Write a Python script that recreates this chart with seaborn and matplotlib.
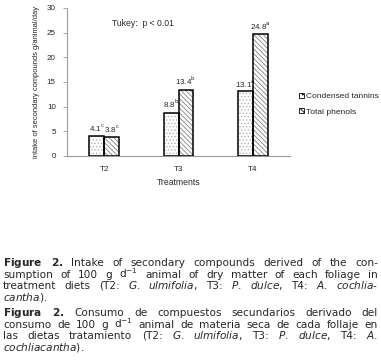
import matplotlib
matplotlib.use("Agg")
import matplotlib.pyplot as plt
from matplotlib.patches import Patch, Rectangle
import seaborn as sns
import pandas as pd

# data
treatments = ["T2", "T3", "T4"]
compounds = ["Condensed tannins", "Total phenols"]
tannins = [4.1, 8.8, 13.1]
phenols = [3.8, 13.4, 24.8]
tannin_letters = ["c", "b", "a"]
phenol_letters = ["c", "b", "a"]
y_ticks = [0, 5, 10, 15, 20, 25, 30]

caption_en = [
    r"$\mathbf{Figure}$ $\mathbf{2.}$ Intake of secondary compounds derived of the con-",
    r"sumption of 100 g d$^{-1}$ animal of dry matter of each foliage in",
    r"treatment diets (T2: $\mathit{G.}$ $\mathit{ulmifolia}$, T3: $\mathit{P.}$ $\mathit{dulce}$, T4: $\mathit{A.}$ $\mathit{cochlia}$-",
    r"$\mathit{cantha}$).",
]
caption_es = [
    r"$\mathbf{Figura}$ $\mathbf{2.}$ Consumo de compuestos secundarios derivado del",
    r"consumo de 100 g d$^{-1}$ animal de materia seca de cada follaje en",
    r"las dietas tratamiento (T2: $\mathit{G.}$ $\mathit{ulmifolia}$, T3: $\mathit{P.}$ $\mathit{dulce}$, T4: $\mathit{A.}$",
    r"$\mathit{cochliacantha}$).",
]

styles = {
    "Condensed tannins": dict(hatch=".....", color="#b4b4b4"),
    "Total phenols": dict(hatch="\\" * 7, color="#808080"),
}

df = pd.DataFrame({
    "treatment": treatments * 2,
    "compound": [compounds[0]] * 3 + [compounds[1]] * 3,
    "intake": tannins + phenols,
})

sns.set_style("white")
plt.rcParams["font.family"] = ["Liberation Sans", "DejaVu Sans"]
plt.rcParams["mathtext.fontset"] = "dejavusans"
plt.rcParams["hatch.linewidth"] = 0.6

W, H = 381, 362
fig = plt.figure(figsize=(W / 100, H / 100), dpi=100)
ax = fig.add_axes([67 / W, 1 - 156 / H, 223 / W, 148 / H])

sns.barplot(data=df, x="treatment", y="intake", hue="compound",
            order=treatments, hue_order=compounds, palette=["white", "white"],
            width=0.4, linewidth=0, legend=False, ax=ax)

letters = [tannin_letters, phenol_letters]
values = [tannins, phenols]
for i, cont in enumerate(ax.containers):
    st = styles[compounds[i]]
    for bar in cont:
        bar.set_hatch(st["hatch"])
        bar.set_edgecolor(st["color"])
        ax.add_patch(Rectangle((bar.get_x(), bar.get_y()), bar.get_width(),
                               bar.get_height(), fill=False, ec="black", lw=1.1, zorder=3))
    labels = [f"{v}$^{{\\mathrm{{{l}}}}}$" for v, l in zip(values[i], letters[i])]
    ax.bar_label(cont, labels=labels, padding=2, fontsize=5.8)

ax.set_ylim(0, 30)
ax.set_yticks(y_ticks)
ax.tick_params(axis="y", labelsize=5.8, length=3, width=0.6, color="#999999", pad=5, left=True)
ax.tick_params(axis="x", labelsize=5.8, length=0, pad=7)
ax.set_xlabel("Treatments", fontsize=6.2, labelpad=4)
ax.set_ylabel("intake of secondary compounds g/animal/day", fontsize=5.4, labelpad=5)
sns.despine(ax=ax)
for s in ["left", "bottom"]:
    ax.spines[s].set_color("#999999")
    ax.spines[s].set_linewidth(0.8)

ax.text(0.2, 0.88, "Tukey:  p < 0.01", transform=ax.transAxes, fontsize=6.2)

handles = [Patch(facecolor="white", edgecolor="black", lw=0.6, hatch="..."),
           Patch(facecolor="white", edgecolor="black", lw=0.6, hatch="\\\\\\\\")]
ax.legend(handles, compounds, loc="center left", bbox_to_anchor=(1.025, 0.35),
          frameon=False, fontsize=6, handlelength=0.6, handleheight=0.6,
          handletextpad=0.2, labelspacing=0.9, borderaxespad=0)


def justified(lines, baselines, left=3, right=378, size=7.6):
    renderer = fig.canvas.get_renderer()
    for n, (line, yb) in enumerate(zip(lines, baselines)):
        words = line.split(" ")
        texts = [fig.text(0, 1 - yb / H, w, fontsize=size, va="baseline", ha="left",
                          family="DejaVu Sans") for w in words]
        widths = [t.get_window_extent(renderer).width for t in texts]
        last = n == len(lines) - 1
        gap = 3.5 if last or len(words) == 1 else (right - left - sum(widths)) / (len(words) - 1)
        x = left
        for t, w in zip(texts, widths):
            t.set_x(x / W)
            x += w + gap


justified(caption_en, [266, 277.5, 289, 300.5])
justified(caption_es, [316, 327.5, 339, 350.5])

fig.savefig("out.png", dpi=100)
